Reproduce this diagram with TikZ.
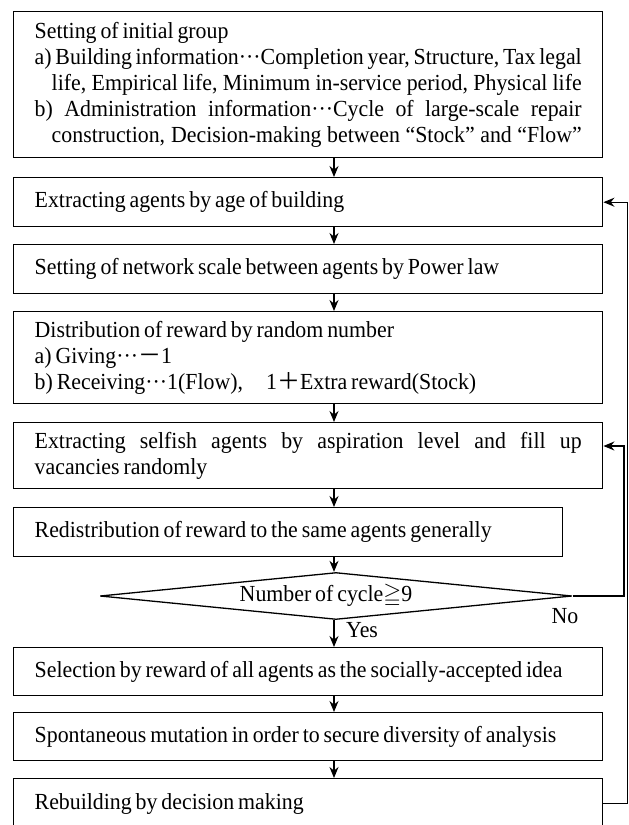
\documentclass[tikz,border=0pt]{standalone}
\usepackage{amssymb}
\usepackage{fontspec}
\setmainfont{Liberation Serif}[FakeStretch=0.95]
\newfontfamily\cjk{Noto Sans CJK JP}
\newcommand\mytightsp{\spaceskip=0.17em plus 0.5em minus 0.05em\relax}
\newcommand\myfnt{\fontsize{23}{26}\selectfont\mytightsp}
\usetikzlibrary{arrows.meta,shapes.geometric,calc}
\begin{document}
\begin{tikzpicture}[x=1pt,y=-1pt,
  txt/.style={font=\myfnt},
  box/.style={draw, line width=1.4pt, rectangle, anchor=north west, inner xsep=21pt, inner ysep=0pt,
    align=left, txt, minimum width=589pt, text width=547pt},
  arr/.style={-{Stealth[length=11pt,width=9pt]}, line width=1.4pt},
  lbl/.style={txt, inner sep=0pt}]
\clip (0,0) rectangle (629,825);
\coordinate (ax) at (334,0);
\coordinate (lx1) at (624,0);
\coordinate (lx2) at (627.5,0);

\node[box, minimum height=146pt] (b1) at (13,11) {\mytightsp Setting of initial group\\
\makebox[547pt][s]{a) Building information\textperiodcentered\textperiodcentered\textperiodcentered Completion year, Structure, Tax legal}\\
\hspace*{17pt}\makebox[530pt][s]{life, Empirical life, Minimum in-service period, Physical life}\\
\makebox[547pt][s]{b) Administration information\textperiodcentered\textperiodcentered\textperiodcentered Cycle of large-scale repair}\\
\hspace*{17pt}\makebox[530pt][s]{construction, Decision-making between “Stock” and “Flow”}};

\node[box, minimum height=49pt] (b2) at (13,177) {\mytightsp Extracting agents by age of building};
\node[box, minimum height=49pt] (b3) at (13,244) {\mytightsp Setting of network scale between agents by Power law};
\node[box, minimum height=92pt] (b4) at (13,311) {\mytightsp Distribution of reward by random number\\
a) Giving\textperiodcentered\textperiodcentered\textperiodcentered{\cjk －}1\\
b) Receiving\textperiodcentered\textperiodcentered\textperiodcentered 1(Flow),\hspace{1em}1{\cjk ＋}Extra reward(Stock)};
\node[box, minimum height=66pt] (b5) at (13,422) {\mytightsp\makebox[547pt][s]{Extracting selfish agents by aspiration level and fill up}\\
vacancies randomly};
\node[box, minimum height=49pt, minimum width=549pt, text width=507pt] (b6) at (13,507) {\mytightsp Redistribution of reward to the same agents generally};
\node[diamond, draw, line width=1.3pt, minimum width=472pt, minimum height=47pt, inner sep=0pt] (dec) at (336,596) {};
\node[lbl] (dect) at ($(dec.center)+(-10,0)$) {Number of cycle$\geqq$9};
\node[box, minimum height=48pt] (b7) at (13,647) {\mytightsp Selection by reward of all agents as the socially-accepted idea};
\node[box, minimum height=48pt] (b8) at (13,712) {\mytightsp Spontaneous mutation in order to secure diversity of analysis};
\node[box, minimum height=50pt] (b9) at (13,778) {\mytightsp Rebuilding by decision making};

\node[lbl, anchor=center] (no) at (565,616) {No};
\node[lbl, anchor=west] (yes) at (346,630) {Yes};

\draw[arr] (b1.south -| ax) -- (b2.north -| ax);
\draw[arr] (b2.south -| ax) -- (b3.north -| ax);
\draw[arr] (b3.south -| ax) -- (b4.north -| ax);
\draw[arr] (b4.south -| ax) -- (b5.north -| ax);
\draw[arr] (b5.south -| ax) -- (b6.north -| ax);
\draw[arr] (b6.south -| ax) -- (dec.north -| ax);
\draw[arr] (dec.south -| ax) -- (b7.north -| ax);
\draw[arr] (b7.south -| ax) -- (b8.north -| ax);
\draw[arr] (b8.south -| ax) -- (b9.north -| ax);

\draw[arr] (dec.east) -- (dec.east -| lx1) |- ($(b5.north east)+(0,24)$);
\draw[arr] (b9.east) -- (b9.east -| lx2) |- (b2.east);
\end{tikzpicture}
\end{document}
